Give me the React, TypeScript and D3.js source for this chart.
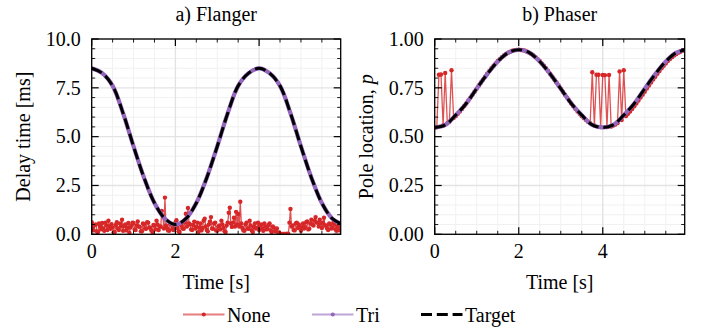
import React from 'react';
import * as d3 from 'd3';

const STEP_NOISE = 0.025;
const STEP_FINE = 0.05;
const STEP_COARSE = 0.25;
const X_MAX = 5.95;

const flangerNone = [
  0.62, 0.35, 0.2, 0.48, 0.5, 0.15, 0.12, 0.55, 0.4, 0.25, 0.58, 0.3, 0.18, 0.6, 0.45, 0.22, 0.7, 0.4, 0.28, 0.52,
  0.35, 0.1, 0.12, 0.48, 0.62, 0.3, 0.22, 0.55, 0.4, 0.75, 0.18, 0.42, 0.5, 0.2, 0.32, 0.58, 0.08, 0.35, 0.45, 0.6,
  0.58, 0.25, 0.22, 0.45, 0.66, 0.4, 0.38, 0.15, 0.16, 0.55, 0.5, 0.3, 0.28, 0.62, 0.6, 0.35, 0.34, 0.2, 0.12, 0.48,
  0.45, 0.25, 0.7, 0.5, 0.22, 0.38, 0.4, 1.2, 0.95, 0.3, 1.88, 0.45, 0.32, 0.2, 0.18, 0.52, 0.5, 0.28, 0.22, 0.4,
  0.6, 0.72, 0.32, 0.15, 0.12, 0.5, 0.45, 0.3, 0.28, 0.6, 1.05, 0.4, 1.35, 0.55, 0.5, 0.25, 0.22, 0.48, 0.65, 0.3,
  0.38, 0.6, 0.12, 0.35, 0.55, 0.2, 0.32, 0.7, 0.8, 0.4, 0.22, 0.15, 0.5, 0.65, 0.88, 0.3, 0.28, 0.55, 0.6, 0.2,
  0.18, 0.4, 0.45, 0.25, 0.7, 0.5, 0.32, 0.15, 0.12, 0.45, 0.6, 1.1, 1.36, 0.55, 0.38, 0.6, 0.85, 0.4, 1.15, 0.5,
  1.04, 0.4, 1.67, 0.55, 0.32, 0.2, 0.18, 0.5, 0.6, 0.3, 0.28, 0.7, 0.45, 0.2, 0.12, 0.38, 0.55, 0.3, 0.32, 0.6,
  0.22, 0.45, 0.5, 0.3, 0.18, 0.55, 0.4, 0.25, 0.28, 0.48, 0.55, 0.2, 0.12, 0.4, 0.35, 0.15, 0.18, 0.3, 0.05, 0.1,
  0.02, 0.02, 0.02, 0.02, 0.02, 0.02, 0.02, 0.03, 0.02, 0.6, 1.3, 0.4, 0.45, 0.22, 0.2, 0.55, 0.6, 0.32, 0.5, 0.4,
  0.18, 0.35, 0.55, 0.3, 0.38, 0.62, 0.66, 0.25, 0.28, 0.55, 0.75, 0.5, 0.45, 0.7, 0.88, 0.6, 0.6, 0.4, 0.75, 0.55,
  0.32, 0.6, 0.85, 0.45, 0.45, 0.3, 0.22, 0.55, 0.5, 0.3, 0.32, 0.6, 0.5, 0.25, 0.18, 0.4, 0.4, 0.2, 0.28, 0.35,
];

const flangerTarget = [
  8.5, 8.25, 7.6, 6.2, 4.5, 2.9, 1.6, 0.8, 0.5,
  0.8, 1.6, 2.9, 4.5, 6.2, 7.6, 8.25, 8.5,
  8.25, 7.6, 6.2, 4.5, 2.9, 1.6, 0.8, 0.5,
];

const flangerTri = [
  8.5, 8.25, 7.6, 6.2, 4.5, 2.9, 1.6, 0.8, 0.5,
  0.8, 1.6, 2.9, 4.5, 6.2, 7.6, 8.25, 8.5,
  8.25, 7.6, 6.2, 4.5, 2.9, 1.6, 0.8, 0.5,
];

const phaserNone = [
  0.547, 0.548, 0.817, 0.818, 0.557, 0.826, 0.569, 0.576, 0.84, 0.595,
  0.605, 0.617, 0.629, 0.642, 0.656, 0.67, 0.685, 0.7, 0.715, 0.73,
  0.746, 0.762, 0.777, 0.792, 0.807, 0.822, 0.836, 0.85, 0.863, 0.875,
  0.887, 0.897, 0.907, 0.916, 0.923, 0.93, 0.935, 0.94, 0.943, 0.944,
  0.945, 0.944, 0.943, 0.94, 0.935, 0.93, 0.923, 0.916, 0.907, 0.897,
  0.887, 0.875, 0.863, 0.85, 0.836, 0.822, 0.807, 0.792, 0.777, 0.762,
  0.746, 0.73, 0.715, 0.7, 0.685, 0.67, 0.656, 0.642, 0.629, 0.617,
  0.605, 0.595, 0.585, 0.576, 0.569, 0.83, 0.557, 0.817, 0.817, 0.549,
  0.816, 0.815, 0.549, 0.816, 0.552, 0.557, 0.562, 0.569, 0.834, 0.585,
  0.84, 0.605, 0.617, 0.629, 0.642, 0.656, 0.67, 0.685, 0.7, 0.715,
  0.73, 0.746, 0.762, 0.777, 0.792, 0.807, 0.822, 0.836, 0.85, 0.863,
  0.875, 0.887, 0.897, 0.907, 0.916, 0.923, 0.93, 0.935, 0.94, 0.943,
];

const phaserTarget = [
  0.547, 0.56, 0.61, 0.67, 0.746, 0.82, 0.885, 0.93, 0.945,
  0.93, 0.885, 0.82, 0.746, 0.67, 0.61, 0.56, 0.547,
  0.56, 0.61, 0.67, 0.746, 0.82, 0.885, 0.93, 0.945,
];

const phaserTri = [
  0.547, 0.56, 0.61, 0.67, 0.746, 0.82, 0.885, 0.93, 0.945,
  0.93, 0.885, 0.82, 0.746, 0.67, 0.61, 0.56, 0.547,
  0.56, 0.61, 0.67, 0.746, 0.82, 0.885, 0.93, 0.945,
];

const xTicks = [0, 2, 4];
const flangerYTicks = [0, 2.5, 5, 7.5, 10];
const phaserYTicks = [0, 0.25, 0.5, 0.75, 1];
const legendLabels = ['None', 'Tri', 'Target'];

const RED = '#d62728';
const PURPLE = '#9467bd';
const FONT =
  '"Liberation Serif", Tinos, "Nimbus Roman", "Nimbus Roman No9 L", FreeSerif, Times, "Times New Roman", "DejaVu Serif", "Noto Serif", serif';

type PanelProps = {
  id: string;
  x0: number;
  x1: number;
  yMax: number;
  yTicks: number[];
  yFmt: (v: number) => string;
  title: string;
  ylabel: React.ReactNode;
  ylabelX: number;
  none: number[];
  noneStep: number;
  tri: number[];
  target: number[];
};

const Y0 = 39;
const Y1 = 234.3;

function Panel(p: PanelProps) {
  const x = d3.scaleLinear().domain([0, X_MAX]).range([p.x0, p.x1]);
  const y = d3.scaleLinear().domain([0, p.yMax]).range([Y1, Y0]);
  const minorX = d3.range(0, X_MAX, 0.5).filter((v) => Math.abs(v % 2) > 1e-6);
  const minorStep = p.yMax / 20;
  const minorY = d3.range(0, 21).map((i) => i * minorStep).filter((_, i) => i % 5 !== 0);

  const fine = d3
    .line<number>()
    .x((_, i) => x(i * p.noneStep))
    .y((d) => y(d));
  const smooth = d3
    .line<number>()
    .x((_, i) => x(i * STEP_COARSE))
    .y((d) => y(d))
    .curve(d3.curveCatmullRom.alpha(0.5));

  const majorLen = 7;
  const minorLen = 3.5;
  const cx = (p.x0 + p.x1) / 2;

  return (
    <g>
      <defs>
        <clipPath id={p.id}>
          <rect x={p.x0} y={Y0} width={p.x1 - p.x0} height={Y1 - Y0} />
        </clipPath>
      </defs>
      {minorX.map((v) => (
        <line key={'mgx' + v} x1={x(v)} x2={x(v)} y1={Y0} y2={Y1} stroke="#f1f1f1" strokeWidth={1} />
      ))}
      {minorY.map((v) => (
        <line key={'mgy' + v} x1={p.x0} x2={p.x1} y1={y(v)} y2={y(v)} stroke="#f1f1f1" strokeWidth={1} />
      ))}
      {xTicks.map((v) => (
        <line key={'gx' + v} x1={x(v)} x2={x(v)} y1={Y0} y2={Y1} stroke="#e3e3e3" strokeWidth={1.4} />
      ))}
      {p.yTicks.map((v) => (
        <line key={'gy' + v} x1={p.x0} x2={p.x1} y1={y(v)} y2={y(v)} stroke="#e3e3e3" strokeWidth={1.4} />
      ))}
      <g clipPath={`url(#${p.id})`}>
        <path d={fine(p.none) || ''} fill="none" stroke={RED} strokeOpacity={0.8} strokeWidth={1.3} />
        {p.none.map((d, i) => (
          <circle key={'n' + i} cx={x(i * p.noneStep)} cy={y(d)} r={2.2} fill={RED} />
        ))}
        <path d={smooth(p.tri) || ''} fill="none" stroke={PURPLE} strokeWidth={4.2} />
        <path
          d={smooth(p.target) || ''}
          fill="none"
          stroke="#000"
          strokeWidth={3}
          strokeDasharray="11 4.8"
        />
      </g>
      <rect x={p.x0} y={Y0} width={p.x1 - p.x0} height={Y1 - Y0} fill="none" stroke="#000" strokeWidth={1.3} />
      {xTicks.map((v) => (
        <g key={'tx' + v}>
          <line x1={x(v)} x2={x(v)} y1={Y1} y2={Y1 - majorLen} stroke="#000" strokeWidth={1.2} />
          <line x1={x(v)} x2={x(v)} y1={Y0} y2={Y0 + majorLen} stroke="#000" strokeWidth={1.2} />
          <text x={x(v)} y={Y1 + 24} textAnchor="middle" fontSize={20} style={{ fontFamily: FONT }}>
            {v}
          </text>
        </g>
      ))}
      {minorX.map((v) => (
        <g key={'mtx' + v}>
          <line x1={x(v)} x2={x(v)} y1={Y1} y2={Y1 - minorLen} stroke="#000" strokeWidth={0.9} />
          <line x1={x(v)} x2={x(v)} y1={Y0} y2={Y0 + minorLen} stroke="#000" strokeWidth={0.9} />
        </g>
      ))}
      {p.yTicks.map((v) => (
        <g key={'ty' + v}>
          <line x1={p.x0} x2={p.x0 + majorLen} y1={y(v)} y2={y(v)} stroke="#000" strokeWidth={1.2} />
          <line x1={p.x1} x2={p.x1 - majorLen} y1={y(v)} y2={y(v)} stroke="#000" strokeWidth={1.2} />
          <text x={p.x0 - 11} y={y(v) + 6.8} textAnchor="end" fontSize={20} style={{ fontFamily: FONT }}>
            {p.yFmt(v)}
          </text>
        </g>
      ))}
      {minorY.map((v) => (
        <g key={'mty' + v}>
          <line x1={p.x0} x2={p.x0 + minorLen} y1={y(v)} y2={y(v)} stroke="#000" strokeWidth={0.9} />
          <line x1={p.x1} x2={p.x1 - minorLen} y1={y(v)} y2={y(v)} stroke="#000" strokeWidth={0.9} />
        </g>
      ))}
      <text x={cx} y={21} textAnchor="middle" fontSize={20} style={{ fontFamily: FONT }}>
        {p.title}
      </text>
      <text x={cx} y={288.5} textAnchor="middle" fontSize={20} style={{ fontFamily: FONT }}>
        Time [s]
      </text>
      <text
        transform={`translate(${p.ylabelX},${(Y0 + Y1) / 2}) rotate(-90)`}
        textAnchor="middle"
        fontSize={20}
        style={{ fontFamily: FONT }}
      >
        {p.ylabel}
      </text>
    </g>
  );
}

function Legend() {
  const items = [
    { x: 183, color: RED, opacity: 0.6, dash: undefined as string | undefined, dot: true, w: 1.8 },
    { x: 312, color: PURPLE, opacity: 0.6, dash: undefined, dot: true, w: 1.8 },
    { x: 421, color: '#000', opacity: 1, dash: '11 4.8', dot: false, w: 3 },
  ];
  const ly = 314.5;
  return (
    <g>
      {items.map((it, i) => (
        <g key={legendLabels[i]}>
          <line
            x1={it.x}
            x2={it.x + 41.5}
            y1={ly}
            y2={ly}
            stroke={it.color}
            strokeOpacity={it.opacity}
            strokeWidth={it.w}
            strokeDasharray={it.dash}
          />
          {it.dot && <circle cx={it.x + 20.75} cy={ly} r={2.1} fill={it.color} />}
          <text x={it.x + 44} y={322} fontSize={20} style={{ fontFamily: FONT }}>
            {legendLabels[i]}
          </text>
        </g>
      ))}
    </g>
  );
}

export default function App() {
  return (
    <svg
      width={704}
      height={330}
      viewBox="0 0 704 330"
      style={{ position: 'absolute', left: 0, top: 0, background: '#fff', fontFamily: FONT }}
    >
      <rect x={0} y={0} width={704} height={330} fill="#fff" />
      <Panel
        id="clipA"
        x0={91.7}
        x1={340.7}
        yMax={10}
        yTicks={flangerYTicks}
        yFmt={(v) => v.toFixed(1)}
        title="a) Flanger"
        ylabel="Delay time [ms]"
        ylabelX={30}
        none={flangerNone}
        noneStep={STEP_NOISE}
        tri={flangerTri}
        target={flangerTarget}
      />
      <Panel
        id="clipB"
        x0={434.7}
        x1={684.7}
        yMax={1}
        yTicks={phaserYTicks}
        yFmt={(v) => v.toFixed(2)}
        title="b) Phaser"
        ylabel={
          <>
            Pole location, <tspan fontStyle="italic">p</tspan>
          </>
        }
        ylabelX={373}
        none={phaserNone}
        noneStep={STEP_FINE}
        tri={phaserTri}
        target={phaserTarget}
      />
      <Legend />
    </svg>
  );
}
